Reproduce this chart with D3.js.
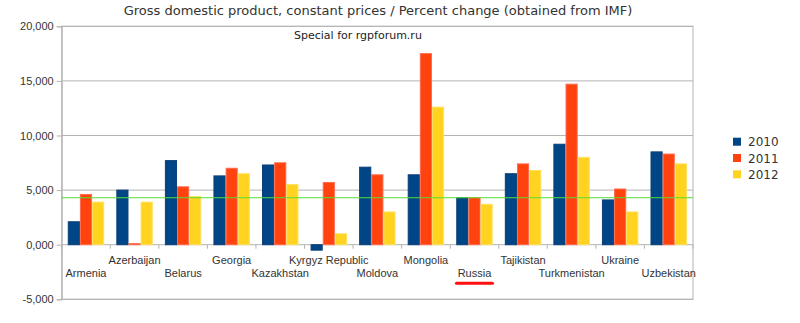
<!DOCTYPE html>
<html>
<head>
<meta charset="utf-8">
<script src="https://cdn.jsdelivr.net/npm/d3@7"></script>
<style>
  body { margin: 0; background: #fff; }
  svg { display: block; }
  .title { font-family: "DejaVu Sans", sans-serif; font-size: 13px; fill: #333; }
  .subtitle { font-family: "DejaVu Sans", sans-serif; font-size: 11px; fill: #222; }
  .tick text, .cat { font-family: "Liberation Sans", Arial, sans-serif; font-size: 11px; fill: #333; }
  .legend text { font-family: "DejaVu Sans", sans-serif; font-size: 12px; fill: #333; }
</style>
</head>
<body>
<div id="container"></div>
<script>
/* Data */
var countries = ["Armenia", "Azerbaijan", "Belarus", "Georgia", "Kazakhstan", "Kyrgyz Republic",
  "Moldova", "Mongolia", "Russia", "Tajikistan", "Turkmenistan", "Ukraine", "Uzbekistan"];
var years = ["2010", "2011", "2012"];
var gdp2010 = [2.1, 5.0, 7.7, 6.3, 7.3, -0.5, 7.1, 6.4, 4.3, 6.5, 9.2, 4.1, 8.5];
var gdp2011 = [4.6, 0.1, 5.3, 7.0, 7.5, 5.7, 6.4, 17.5, 4.3, 7.4, 14.7, 5.1, 8.3];
var gdp2012 = [3.9, 3.9, 4.4, 6.5, 5.5, 1.0, 3.0, 12.6, 3.7, 6.8, 8.0, 3.0, 7.4];
var yTicks = [-5, 0, 5, 10, 15, 20];
var colors = ["#004586", "#ff420e", "#ffd320"];
var strokes = ["#0a3f78", "#ff6a4e", "#ffe060"];
var highlight = "Russia";

var series = [gdp2010, gdp2011, gdp2012];
var dataset = countries.map((c, i) => ({
  country: c,
  values: years.map((y, j) => ({ year: y, j: j, value: series[j][i] }))
}));

var w = 800, h = 323;
var margin = { top: 26.3, right: 107, bottom: 23.7, left: 61.7 };

var svg = d3.select("#container").append("svg")
  .attr("width", w)
  .attr("height", h);

/* Scales */
var xScale = d3.scaleBand()
  .domain(countries)
  .range([margin.left, w - margin.right]);

var xInner = d3.scaleBand()
  .domain(years)
  .range([0, xScale.bandwidth()])
  .paddingOuter(0.5);

var yScale = d3.scaleLinear()
  .domain([-5, 20])
  .range([h - margin.bottom, margin.top]);

var locale = d3.formatLocale({ decimal: ",", thousands: ".", grouping: [3], currency: ["", ""], minus: "-" });
var fmt = locale.format(".3f");

/* Grid lines */
svg.append("g")
  .selectAll("line")
  .data(yTicks)
  .join("line")
  .attr("x1", margin.left)
  .attr("x2", w - margin.right)
  .attr("y1", d => yScale(d))
  .attr("y2", d => yScale(d))
  .attr("stroke", "#b3b3b3")
  .attr("stroke-width", 1);

/* Plot frame */
svg.append("rect")
  .attr("x", margin.left)
  .attr("y", margin.top)
  .attr("width", w - margin.right - margin.left)
  .attr("height", h - margin.bottom - margin.top)
  .attr("fill", "none")
  .attr("stroke", "#b3b3b3");

/* Y-Axis */
var yAxis = d3.axisLeft(yScale)
  .tickValues(yTicks)
  .tickFormat(fmt)
  .tickSize(5)
  .tickPadding(3);

svg.append("g")
  .attr("transform", "translate(" + margin.left + ",0)")
  .call(yAxis)
  .call(g => g.selectAll("line, path").attr("stroke", "#b3b3b3"));

/* Category ticks along the zero line */
var bounds = countries.map(c => xScale(c)).concat([w - margin.right]);
svg.append("g")
  .selectAll("line")
  .data(bounds)
  .join("line")
  .attr("x1", d => d)
  .attr("x2", d => d)
  .attr("y1", yScale(0))
  .attr("y2", yScale(0) + 4)
  .attr("stroke", "#b3b3b3");

/* Bars */
var groups = svg.append("g")
  .selectAll("g")
  .data(dataset)
  .join("g")
  .attr("transform", d => "translate(" + xScale(d.country) + ",0)");

groups.selectAll("rect")
  .data(d => d.values)
  .join("rect")
  .attr("x", d => xInner(d.year) + 0.5)
  .attr("width", xInner.bandwidth() - 1)
  .attr("y", d => yScale(Math.max(0, d.value)))
  .attr("height", d => Math.abs(yScale(d.value) - yScale(0)))
  .attr("fill", d => colors[d.j])
  .attr("stroke", d => strokes[d.j])
  .attr("stroke-width", 1);

/* Reference line at the Russian growth level */
var ruValue = gdp2010[countries.indexOf(highlight)];
svg.append("line")
  .attr("x1", margin.left)
  .attr("x2", w - margin.right)
  .attr("y1", yScale(ruValue))
  .attr("y2", yScale(ruValue))
  .attr("stroke", "#55dd33")
  .attr("stroke-width", 1);

/* Category labels, staggered on two rows */
svg.append("g")
  .selectAll("text")
  .data(countries)
  .join("text")
  .classed("cat", true)
  .attr("x", d => xScale(d) + xScale.bandwidth() / 2)
  .attr("y", (d, i) => i % 2 ? 264 : 277)
  .attr("text-anchor", "middle")
  .text(d => d);

/* Underline for Russia */
var ruX = xScale(highlight) + xScale.bandwidth() / 2;
svg.append("line")
  .attr("x1", ruX - 18)
  .attr("x2", ruX + 18)
  .attr("y1", 283.3)
  .attr("y2", 283.3)
  .attr("stroke", "#ff1010")
  .attr("stroke-width", 3)
  .attr("stroke-linecap", "round");

/* Titles */
svg.append("text")
  .classed("title", true)
  .attr("x", 378)
  .attr("y", 15)
  .attr("text-anchor", "middle")
  .text("Gross domestic product, constant prices / Percent change (obtained from IMF)");

svg.append("text")
  .classed("subtitle", true)
  .attr("x", 294)
  .attr("y", 39)
  .text("Special for rgpforum.ru");

/* Legend */
var legend = svg.append("g")
  .classed("legend", true)
  .attr("transform", "translate(733,137.7)");

var items = legend.selectAll("g")
  .data(years)
  .join("g")
  .attr("transform", (d, i) => "translate(0," + (i * 16.3) + ")");

items.append("rect")
  .attr("width", 8)
  .attr("height", 8)
  .attr("fill", (d, i) => colors[i]);

items.append("text")
  .attr("x", 15)
  .attr("y", 8.5)
  .text(d => d);
</script>
</body>
</html>
